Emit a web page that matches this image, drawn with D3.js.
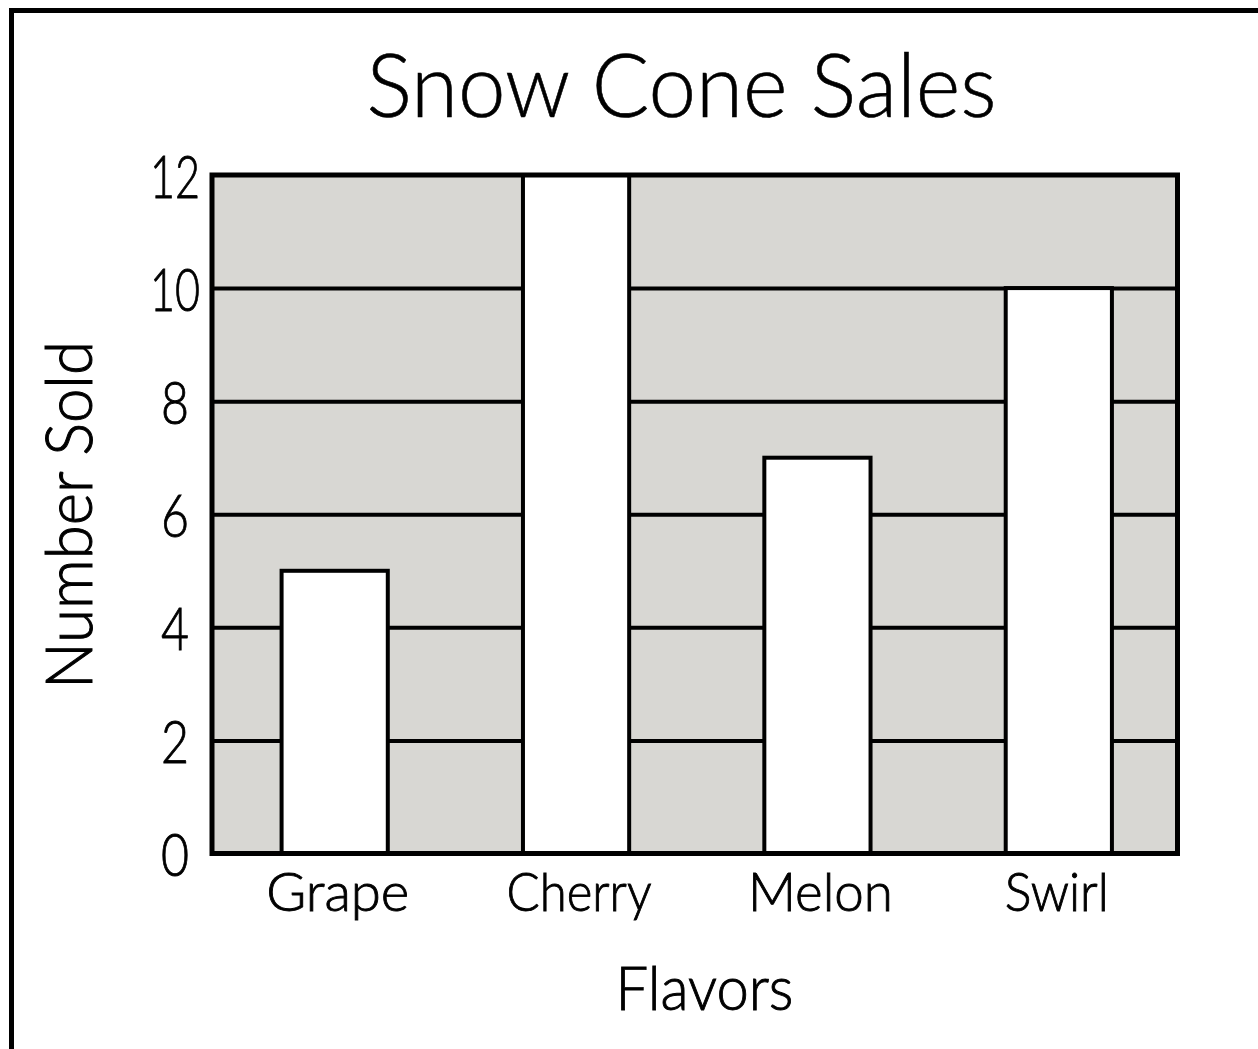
<!DOCTYPE html>
<html>
<head>
<meta charset="utf-8">
<script src="https://cdn.jsdelivr.net/npm/d3@7"></script>
<style>
  html, body { margin: 0; padding: 0; background: #fff; }
  svg { display: block; }
  text { font-family: Lato, "Open Sans", sans-serif; fill: #000; font-weight: 300; }
</style>
</head>
<body>
<script>
// ---- data ----
const categories = ["Grape", "Cherry", "Melon", "Swirl"];
const values = [5, 12, 7, 10];
const yTicks = [0, 2, 4, 6, 8, 10, 12];
const titleText = "Snow Cone Sales";
const xLabelText = "Flavors";
const yLabelText = "Number Sold";

// ---- layout ----
const W = 1258, H = 1049;
const plot = { left: 212, right: 1177.5, top: 175, bottom: 853.5 };

const svg = d3.select("body").append("svg").attr("width", W).attr("height", H);

// outer frame (left and top edges visible)
svg.append("line").attr("x1", 11.5).attr("x2", 11.5).attr("y1", 8).attr("y2", H)
  .attr("stroke", "#000").attr("stroke-width", 5);
svg.append("line").attr("x1", 9).attr("x2", W).attr("y1", 10.5).attr("y2", 10.5)
  .attr("stroke", "#000").attr("stroke-width", 5);

const x = d3.scaleBand().domain(categories)
  .range([plot.left + 2, plot.right + 2]).paddingInner(0.56).paddingOuter(0.28);
const y = d3.scaleLinear().domain([0, 12]).range([plot.bottom, plot.top]);

// background
svg.append("rect")
  .attr("x", plot.left).attr("y", plot.top)
  .attr("width", plot.right - plot.left).attr("height", plot.bottom - plot.top)
  .attr("fill", "#d8d7d3");

// gridlines
const grid = svg.append("g").attr("transform", `translate(${plot.left},0)`)
  .call(d3.axisLeft(y).tickValues(yTicks.filter(d => d > 0 && d < 12))
    .tickSize(-(plot.right - plot.left)).tickFormat(""));
grid.select(".domain").remove();
grid.selectAll(".tick line").attr("stroke", "#000").attr("stroke-width", 4);

// bars
svg.append("g").selectAll("rect")
  .data(categories.map((c, i) => ({ c, v: values[i] })))
  .join("rect")
  .attr("x", d => x(d.c))
  .attr("y", d => y(d.v))
  .attr("width", x.bandwidth())
  .attr("height", d => y(0) - y(d.v))
  .attr("fill", "#fff")
  .attr("stroke", "#000")
  .attr("stroke-width", 4);

// plot frame
svg.append("rect")
  .attr("x", plot.left).attr("y", plot.top)
  .attr("width", plot.right - plot.left).attr("height", plot.bottom - plot.top)
  .attr("fill", "none").attr("stroke", "#000").attr("stroke-width", 5);

// y tick labels
const yAxis = svg.append("g").attr("transform", `translate(${plot.left},0)`)
  .call(d3.axisLeft(y).tickValues(yTicks).tickSize(0).tickPadding(0));
yAxis.select(".domain").remove();
yAxis.selectAll(".tick text")
  .attr("x", 175 - plot.left)
  .attr("dy", 22)
  .attr("text-anchor", "middle")
  .attr("font-family", "Lato, sans-serif")
  .attr("font-weight", 300)
  .attr("font-size", 60)
  .attr("fill", "#000")
  .attr("stroke", "#000").attr("stroke-width", 0.9)
  .attr("textLength", d => String(d).length === 1 ? 28 : 50)
  .attr("lengthAdjust", "spacingAndGlyphs");

// x tick labels
const xLabelWidths = { Grape: 143, Cherry: 145, Melon: 145, Swirl: 104 };
const xAxis = svg.append("g").attr("transform", `translate(0,${plot.bottom})`)
  .call(d3.axisBottom(x).tickSize(0).tickPadding(0));
xAxis.select(".domain").remove();
xAxis.selectAll(".tick text")
  .attr("y", 0).attr("dy", 57.5).attr("dx", d => d === "Swirl" ? -2 : 3)
  .attr("font-family", "Lato, sans-serif")
  .attr("font-weight", 300)
  .attr("font-size", 54)
  .attr("fill", "#000")
  .attr("stroke", "#000").attr("stroke-width", 0.9)
  .attr("textLength", d => xLabelWidths[d])
  .attr("lengthAdjust", "spacingAndGlyphs");

// title
svg.append("text")
  .attr("x", 681.5).attr("y", 117)
  .attr("text-anchor", "middle")
  .attr("font-size", 88)
  .attr("stroke", "#000").attr("stroke-width", 0.6)
  .attr("textLength", 630).attr("lengthAdjust", "spacingAndGlyphs")
  .text(titleText);

// x axis label
svg.append("text")
  .attr("x", 704.5).attr("y", 1010)
  .attr("text-anchor", "middle")
  .attr("font-size", 62)
  .attr("stroke", "#000").attr("stroke-width", 0.9)
  .attr("textLength", 178).attr("lengthAdjust", "spacingAndGlyphs")
  .text(xLabelText);

// y axis label
svg.append("text")
  .attr("transform", "translate(92,515) rotate(-90)")
  .attr("text-anchor", "middle")
  .attr("font-size", 65)
  .attr("stroke", "#000").attr("stroke-width", 1)
  .attr("textLength", 348).attr("lengthAdjust", "spacingAndGlyphs")
  .text(yLabelText);
</script>
</body>
</html>
